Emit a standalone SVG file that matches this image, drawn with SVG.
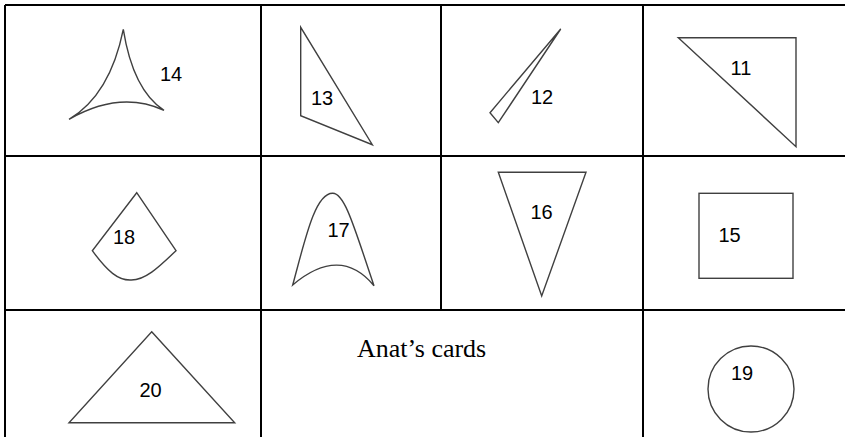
<svg xmlns="http://www.w3.org/2000/svg" width="845" height="437" viewBox="0 0 845 437">
<style>
.grid{stroke:#000;stroke-width:2;fill:none}
.shp{stroke:#404040;stroke-width:1.4;fill:none;stroke-linejoin:miter}
.lbl{font-family:"Liberation Sans",Arial,sans-serif;font-size:20px;fill:#000}
.ttl{font-family:"Liberation Serif","Times New Roman",serif;font-size:26px;fill:#000}
</style>
<rect width="845" height="437" fill="#fff"/>
<g id="grid" class="grid">
<line x1="5" y1="5" x2="845" y2="5"/>
<line x1="5" y1="156" x2="845" y2="156"/>
<line x1="5" y1="310" x2="845" y2="310"/>
<line x1="5" y1="5" x2="5" y2="437"/>
<line x1="261" y1="5" x2="261" y2="437"/>
<line x1="441" y1="5" x2="441" y2="310"/>
<line x1="643" y1="5" x2="643" y2="437"/>
</g>
<g id="card14">
<path class="shp" d="M123.3,29.3 Q110,95 69,119.3 Q120,90 164,110.3 Q133,90 123.3,29.3 Z"/>
<text class="lbl" x="160" y="81">14</text>
</g>
<g id="card13">
<path class="shp" d="M300.7,27.3 L300.7,115.7 L372.3,144.7 Z"/>
<text class="lbl" x="311" y="105">13</text>
</g>
<g id="card12">
<path class="shp" d="M560.7,29 L490,112.7 L498.3,122.7 Z"/>
<text class="lbl" x="531" y="104">12</text>
</g>
<g id="card11">
<path class="shp" d="M678.3,37.7 L796,37.7 L796,146.7 Z"/>
<text class="lbl" x="730.5" y="75">11</text>
</g>
<g id="card18">
<path class="shp" d="M136.7,192.7 L176,250.7 C160,266 145,281 130,280 C118,280 108,272 92.3,250.7 Z"/>
<text class="lbl" x="113" y="244">18</text>
</g>
<g id="card17">
<path class="shp" d="M292.7,285 C305,240 315,193 332.7,193.3 C345,193 355,230 374,285.7 Q340,245 292.7,285 Z"/>
<text class="lbl" x="327.5" y="237">17</text>
</g>
<g id="card16">
<path class="shp" d="M498.3,172.3 L586,172.3 L541.7,296 Z"/>
<text class="lbl" x="530.5" y="219">16</text>
</g>
<g id="card15">
<rect class="shp" x="699" y="193.3" width="94" height="85"/>
<text class="lbl" x="718.5" y="242">15</text>
</g>
<g id="card20">
<path class="shp" d="M151.7,331.7 L234.7,422.7 L69,422.7 Z"/>
<text class="lbl" x="139.5" y="397">20</text>
</g>
<g id="title">
<text class="ttl" x="357" y="357">Anat’s cards</text>
</g>
<g id="card19">
<circle class="shp" cx="751" cy="389" r="43"/>
<text class="lbl" x="742" y="380" text-anchor="middle">19</text>
</g>
</svg>
